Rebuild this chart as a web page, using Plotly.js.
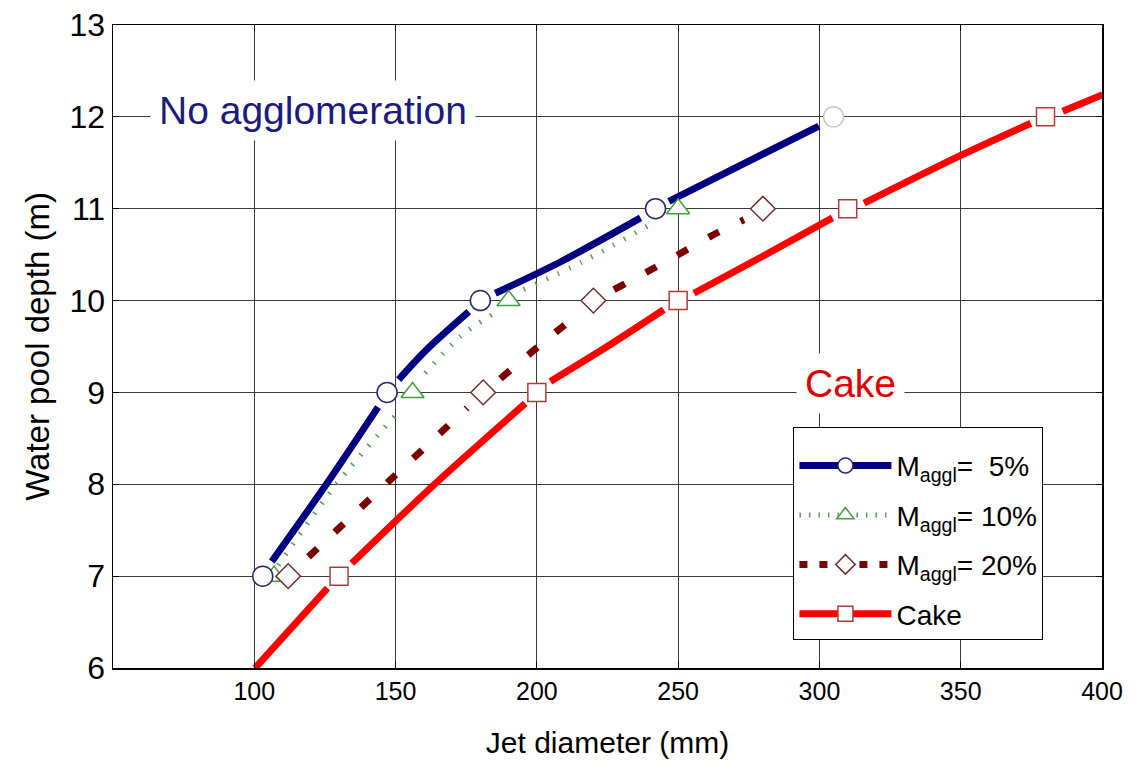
<!DOCTYPE html>
<html>
<head>
<meta charset="utf-8">
<script src="https://cdn.plot.ly/plotly-3.0.1.min.js"></script>
<style>
  html, body { margin: 0; padding: 0; background: #ffffff; }
  #chart { width: 1140px; height: 776px; }
</style>
</head>
<body>
<div id="chart"></div>
<script>
// ---- Data ----
// Line segments (null = break of the line around a marker)
const blueLineX = [106.2, 125.5, 143.8, null, 151.1, 161.1, 175.9, null, 185.3, 208.3, 236.7, null, 246.7, 274.5, 299.8];
const blueLineY = [7.16, 8.0, 8.84, null, 9.14, 9.47, 9.88, null, 10.08, 10.42, 10.90, null, 11.08, 11.51, 11.90];

const greenLineX = [108.5, 129.0, 149.9, null, 160.5, 172.9, 185.9, null, 195.3, 216.0, 240.8];
const greenLineY = [7.12, 8.0, 8.75, null, 9.21, 9.61, 9.88, null, 10.12, 10.42, 10.84];

const darkredLineX = [119.2, 147.5, 175.3, null, 187.1, 204.8, 214.3, null, 227.3, 244.8, 263.3, 273.3];
const darkredLineY = [7.21, 8.03, 8.83, null, 9.15, 9.61, 9.84, null, 10.12, 10.41, 10.73, 10.88];

const redLineX = [100.3, 125.9, null, 134.5, 163.8, 195.9, null, 204.8, 224.9, 244.9, null, 255.6, 279.8, 304.6, null, 315.8, 350.0, 374.8, null, 386.1, 400.2];
const redLineY = [6.0, 6.87, null, 7.14, 8.0, 8.88, null, 9.12, 9.50, 9.90, null, 10.08, 10.48, 10.90, null, 11.06, 11.58, 11.93, null, 12.06, 12.24];

// Marker points
const blueMarkX = [103, 147, 180, 242, 305];
const blueMarkY = [7, 9, 10, 11, 12];
const greenMarkX = [107, 156, 190, 250];
const greenMarkY = [7, 9, 10, 11];
const darkredMarkX = [112, 181, 220, 280];
const darkredMarkY = [7, 9, 10, 11];
const redMarkX = [130, 200, 250, 310, 380];
const redMarkY = [7, 9, 10, 11, 12];

// Labels
const seriesNames = ['M<sub>aggl</sub>= &nbsp;5%', 'M<sub>aggl</sub>= 10%', 'M<sub>aggl</sub>= 20%', 'Cake'];
const xTickVals = [100, 150, 200, 250, 300, 350, 400];
const yTickVals = [6, 7, 8, 9, 10, 11, 12, 13];

// ---- Styles ----
const FONT = 'Arial, "Liberation Sans", sans-serif';
const cBlue = '#000080', cGreen = '#5a9a5a', cDark = '#7a0000', cRed = '#ff0000';
const mBlue = '#2b2b6b', mGreen = '#3f9f3f', mDark = '#6b3030', mRed = '#b03a3a';

const lines = [
  {x: blueLineX, y: blueLineY, line: {color: cBlue, width: 7}},
  {x: greenLineX, y: greenLineY, line: {color: cGreen, width: 5, dash: '1.5px,11px'}},
  {x: darkredLineX, y: darkredLineY, line: {color: cDark, width: 7, dash: '12px,24px'}},
  {x: redLineX, y: redLineY, line: {color: cRed, width: 7}}
].map(t => Object.assign({type: 'scatter', mode: 'lines', showlegend: false, hoverinfo: 'skip', connectgaps: false}, t, {line: Object.assign({shape: 'spline', smoothing: 0.8}, t.line)}));

const markers = [
  {x: greenMarkX, y: greenMarkY, marker: {symbol: 'triangle-up', size: 20, color: '#ffffff', line: {color: mGreen, width: 1.5}}},
  {x: blueMarkX, y: blueMarkY, marker: {symbol: 'circle', size: 20, color: '#ffffff', line: {color: [mBlue, mBlue, mBlue, mBlue, '#c8c8c8'], width: 1.5}}},
  {x: darkredMarkX, y: darkredMarkY, marker: {symbol: 'diamond', size: 19, color: '#ffffff', line: {color: mDark, width: 1.5}}},
  {x: redMarkX, y: redMarkY, marker: {symbol: 'square', size: 18, color: '#ffffff', line: {color: mRed, width: 1.5}}}
].map(t => Object.assign({type: 'scatter', mode: 'markers', showlegend: false, hoverinfo: 'skip', cliponaxis: false}, t));

const legendStyles = [
  {line: {color: cBlue, width: 7}, marker: {symbol: 'circle', size: 15, color: '#ffffff', line: {color: mBlue, width: 1.5}}},
  {line: {color: cGreen, width: 5, dash: '1.5px,8px'}, marker: {symbol: 'triangle-up', size: 15, color: '#ffffff', line: {color: mGreen, width: 1.5}}},
  {line: {color: cDark, width: 7, dash: '8px,12px'}, marker: {symbol: 'diamond', size: 15, color: '#ffffff', line: {color: mDark, width: 1.5}}},
  {line: {color: cRed, width: 7}, marker: {symbol: 'square', size: 15, color: '#ffffff', line: {color: mRed, width: 1.5}}}
];
const legendTraces = legendStyles.map((s, i) => Object.assign({
  type: 'scatter', mode: 'lines+markers', x: [null], y: [null],
  name: seriesNames[i], legendgroup: 'g' + i, hoverinfo: 'skip'
}, s));

const layout = {
  width: 1140, height: 776,
  paper_bgcolor: '#ffffff', plot_bgcolor: '#ffffff',
  margin: {l: 113, r: 38, t: 25, b: 108},
  font: {family: FONT, color: '#000000'},
  showlegend: true,
  legend: {
    x: 0.688, y: 0.375, xanchor: 'left', yanchor: 'top',
    bgcolor: '#ffffff', bordercolor: '#000000', borderwidth: 1,
    font: {family: FONT, size: 28, color: '#000000'},
    title: {text: '&nbsp;', font: {family: FONT, size: 10}},
    itemwidth: 92,
    tracegroupgap: 10
  },
  xaxis: {
    range: [50, 400],
    tickvals: xTickVals,
    ticktext: xTickVals.map(String),
    tickfont: {family: FONT, size: 25},
    showgrid: true, gridcolor: '#3a3a3a', gridwidth: 1.2,
    showline: true, linecolor: '#000000', linewidth: 1.5, mirror: 'ticks',
    ticks: 'inside', ticklen: 6, tickcolor: '#000000',
    zeroline: false,
    title: {text: 'Jet diameter (mm)', font: {family: FONT, size: 30}, standoff: 28}
  },
  yaxis: {
    range: [6, 13],
    tickvals: yTickVals,
    ticktext: yTickVals.map(String),
    tickfont: {family: FONT, size: 32},
    showgrid: true, gridcolor: '#3a3a3a', gridwidth: 1.2,
    showline: true, linecolor: '#000000', linewidth: 1.5, mirror: 'ticks',
    ticks: 'inside', ticklen: 6, tickcolor: '#000000',
    zeroline: false,
    title: {text: 'Water pool depth (m)', font: {family: FONT, size: 33}, standoff: 10}
  },
  annotations: [
    {x: 120.8, y: 12.07, xref: 'x', yref: 'y', text: 'No agglomeration', showarrow: false,
     font: {family: FONT, size: 39, color: '#1a1a80'}, bgcolor: '#ffffff', borderpad: 8},
    {x: 311, y: 9.1, xref: 'x', yref: 'y', text: 'Cake', showarrow: false,
     font: {family: FONT, size: 39, color: '#e00000'}, bgcolor: '#ffffff', borderpad: 8}
  ]
};

Plotly.newPlot('chart', lines.concat(markers, legendTraces), layout, {staticPlot: true, displayModeBar: false});
</script>
</body>
</html>
